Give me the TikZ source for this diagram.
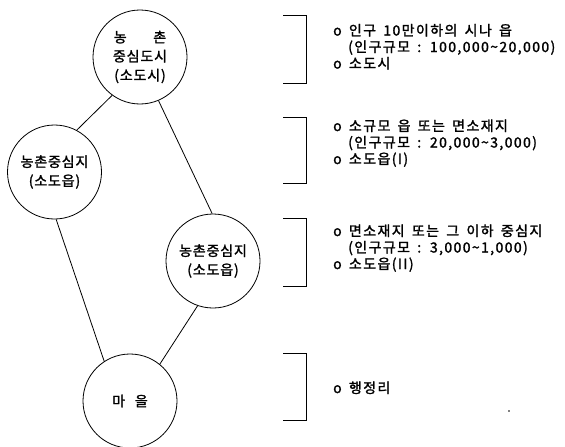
\documentclass[tikz,border=0pt]{standalone}
\usepackage{fontspec}
\setmainfont{Noto Sans CJK KR}
\newfontfamily\krcirc[LetterSpace=6,FakeBold=1.6]{Noto Sans CJK KR}
\newfontfamily\krinfo[LetterSpace=10,WordSpace=1.6,FakeBold=1.6]{Noto Sans CJK KR}
\newcommand{\circfont}{\krcirc\fontsize{14}{19}\selectfont}
\newcommand{\infofont}{\krinfo\fontsize{14}{16}\selectfont}
\begin{document}
\begin{tikzpicture}[x=1pt,y=-1pt,
  town/.style={draw, circle, line width=0.8pt, minimum size=94pt, inner sep=0pt, align=center, font=\circfont},
  link/.style={line width=0.8pt},
  brk/.style={line width=0.9pt},
  info/.style={anchor=base west, inner sep=0pt, font=\infofont}]
\useasboundingbox (0,0) rectangle (565,447);
% circles
\node[town] (top) at (140,57) {농\hspace{1.9em}촌\\중심도시\\(소도시)};
\node[town] (left) at (54.5,172) {농촌중심지\\(소도읍)};
\node[town] (mid) at (213,261) {농촌중심지\\(소도읍)};
\node[town] (vil) at (130,401) {마\hspace{0.7em}을};
% connectors
\draw[link] (top.234) -- (left.62);
\draw[link] (top.293) -- (mid.91);
\draw[link] (left.272) -- (vil.123);
\draw[link] (mid.251) -- (vil.51);
% brackets
\draw[brk] (283,15) -- (306,15) -- (306,83) -- (283,83);
\draw[brk] (283,117) -- (306,117) -- (306,183) -- (283,183);
\draw[brk] (283,218) -- (306,218) -- (306,286) -- (283,286);
\draw[brk] (283,353) -- (306,353) -- (306,420) -- (283,420);
% info texts
\node[info] (a1) at (333,35.5) {o 인구 10만이하의 시나 읍};
\node[info] (a2) at (348,52) {(인구규모 : 100,000\textasciitilde 20,000)};
\node[info] (a3) at (333,68.5) {o 소도시};
\node[info] (b1) at (333,131) {o 소규모 읍 또는 면소재지};
\node[info] (b2) at (348,147.5) {(인구규모 : 20,000\textasciitilde 3,000)};
\node[info] (b3) at (333,164) {o 소도읍(I)};
\node[info] (c1) at (333,236) {o 면소재지 또는 그 이하 중심지};
\node[info] (c2) at (348,252.5) {(인구규모 : 3,000\textasciitilde 1,000)};
\node[info] (c3) at (333,269) {o 소도읍(II)};
\node[info] (d1) at (333,393) {o 행정리};
\fill (509,411) circle (0.8pt);
\end{tikzpicture}
\end{document}
